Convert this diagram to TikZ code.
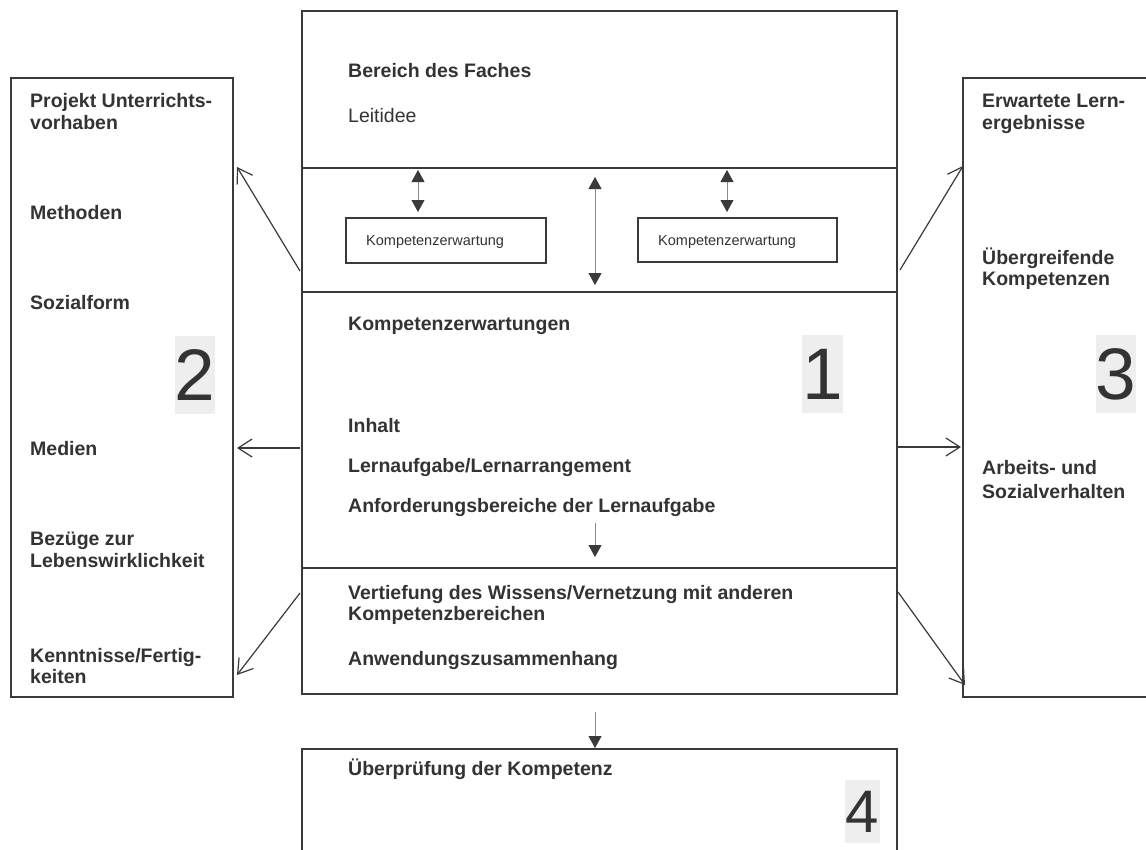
\documentclass[tikz,border=0pt]{standalone}
\usepackage{fontspec}
\setmainfont{Liberation Sans}
\usetikzlibrary{arrows.meta}
\definecolor{linecol}{HTML}{3A3A3A}
\definecolor{txtcol}{HTML}{333333}
\definecolor{shaftcol}{HTML}{8A8A8A}
\definecolor{digbg}{HTML}{EEEEEE}
\begin{document}
\begin{tikzpicture}[x=1pt,y=-1pt,
  box/.style={draw=linecol, line width=1.5pt, inner sep=0pt},
  mainbox/.style={draw=linecol, line width=2.2pt, inner sep=0pt},
  kbox/.style={draw=linecol, line width=1.2pt, inner sep=0pt},
  divider/.style={draw=linecol, line width=1.6pt},
  lbl/.style={anchor=base west, inner sep=0pt, text=txtcol, font=\fontsize{19.5}{22}\selectfont\bfseries},
  reg/.style={anchor=base west, inner sep=0pt, text=txtcol, font=\fontsize{19.5}{22}\selectfont},
  small/.style={anchor=base west, inner sep=0pt, text=txtcol, font=\fontsize{14.5}{17}\selectfont},
  digit/.style={fill=digbg, inner sep=0pt, minimum width=38pt, minimum height=78pt, text=txtcol, font=\fontsize{73}{73}\selectfont},
  sidearr/.style={draw=linecol, line width=1.2pt, -{Straight Barb[length=14pt,width=18pt,line width=1.2pt]}},
  innerarr/.style={draw=shaftcol, line width=0.8pt, {Triangle[length=12pt,width=13pt,color=linecol]}-{Triangle[length=12pt,width=13pt,color=linecol]}},
  downarr/.style={draw=shaftcol, line width=0.8pt, -{Triangle[length=12pt,width=13pt,color=linecol]}}
]
\useasboundingbox (0,0) rectangle (1146,849);
\fill[white] (0,0) rectangle (1146,849);
\clip (0,0) rectangle (1146,849);

% boxes
\node[mainbox, minimum width=595pt, minimum height=683pt] (main) at (599.5,352.5) {};
\node[box, minimum width=222pt, minimum height=619pt] (left) at (122,387.5) {};
\node[box, minimum width=197pt, minimum height=619pt] (right) at (1061.5,387.5) {};
\node[mainbox, minimum width=595pt, minimum height=121pt] (bottom) at (599.5,809.5) {};
\node[kbox, minimum width=200pt, minimum height=45pt] (k1) at (446,240.5) {};
\node[kbox, minimum width=199pt, minimum height=44pt] (k2) at (737.5,240) {};

% dividers
\draw[divider] (main.west |- 0,168) -- (main.east |- 0,168);
\draw[divider] (main.west |- 0,292) -- (main.east |- 0,292);
\draw[divider] (main.west |- 0,568) -- (main.east |- 0,568);

% digits
\node[digit] (d2) at (195,375) {2};
\node[digit] (d1) at (822.5,374) {1};
\node[digit] (d3) at (1116,374) {3};
\node[digit, minimum width=35pt, minimum height=63pt, font=\fontsize{60}{60}\selectfont] (d4) at (862.5,811.5) {4};

% small box texts
\node[small] (k1t) at (366,245) {Kompetenzerwartung};
\node[small] (k2t) at (658,245) {Kompetenzerwartung};

% centre texts
\node[lbl] (t1) at (348,77) {Bereich des Faches};
\node[reg] (t2) at (348,122) {Leitidee};
\node[lbl] (t3) at (348,330) {Kompetenzerwartungen};
\node[lbl] (t4) at (348,432) {Inhalt};
\node[lbl] (t5) at (348,472) {Lernaufgabe/Lernarrangement};
\node[lbl] (t6) at (348,512) {Anforderungsbereiche der Lernaufgabe};
\node[lbl] (t7) at (348,599) {Vertiefung des Wissens/Vernetzung mit anderen};
\node[lbl] (t8) at (348,620) {Kompetenzbereichen};
\node[lbl] (t9) at (348,665) {Anwendungszusammenhang};
\node[lbl] (t10) at (348,775) {Überprüfung der Kompetenz};

% left texts
\node[lbl] (l1) at (30,107) {Projekt Unterrichts-};
\node[lbl] (l1b) at (30,129) {vorhaben};
\node[lbl] (l2) at (30,219) {Methoden};
\node[lbl] (l3) at (30,309) {Sozialform};
\node[lbl] (l4) at (30,455) {Medien};
\node[lbl] (l5) at (30,545) {Bezüge zur};
\node[lbl] (l5b) at (30,567) {Lebenswirklichkeit};
\node[lbl] (l6) at (30,662) {Kenntnisse/Fertig-};
\node[lbl] (l6b) at (30,683) {keiten};

% right texts
\node[lbl] (r1) at (982,107) {Erwartete Lern-};
\node[lbl] (r1b) at (982,129) {ergebnisse};
\node[lbl] (r2) at (982,264) {Übergreifende};
\node[lbl] (r2b) at (982,285) {Kompetenzen};
\node[lbl] (r3) at (982,474) {Arbeits- und};
\node[lbl] (r3b) at (982,498) {Sozialverhalten};

% connector end points
\coordinate (L1s) at (300,271); \coordinate (L1e) at (237,167);
\coordinate (L2s) at (300,448); \coordinate (L2e) at (237,448);
\coordinate (L3s) at (300,593); \coordinate (L3e) at (237,675);
\coordinate (R1s) at (900,270); \coordinate (R1e) at (963,166);
\coordinate (R2s) at (898,447); \coordinate (R2e) at (961,447);
\coordinate (R3s) at (898,592); \coordinate (R3e) at (965,685);
\coordinate (A1t) at (418,170); \coordinate (A1b) at (418,212);
\coordinate (A2t) at (595,177); \coordinate (A2b) at (595,285);
\coordinate (A3t) at (727,170); \coordinate (A3b) at (727,212);
\coordinate (D1s) at (595,523); \coordinate (D1e) at (595,557);
\coordinate (D2s) at (595,712); \coordinate (D2e) at (595,748);

% side arrows
\draw[sidearr] (L1s) -- (L1e);
\draw[sidearr] (L2s) -- (L2e);
\draw[sidearr] (L3s) -- (L3e);
\draw[sidearr] (R1s) -- (R1e);
\draw[sidearr] (R2s) -- (R2e);
\draw[sidearr] (R3s) -- (R3e);

% inner arrows
\draw[innerarr] (A1t) -- (A1b);
\draw[innerarr] (A2t) -- (A2b);
\draw[innerarr] (A3t) -- (A3b);
\draw[downarr] (D1s) -- (D1e);
\draw[downarr] (D2s) -- (D2e);
\end{tikzpicture}
\end{document}
